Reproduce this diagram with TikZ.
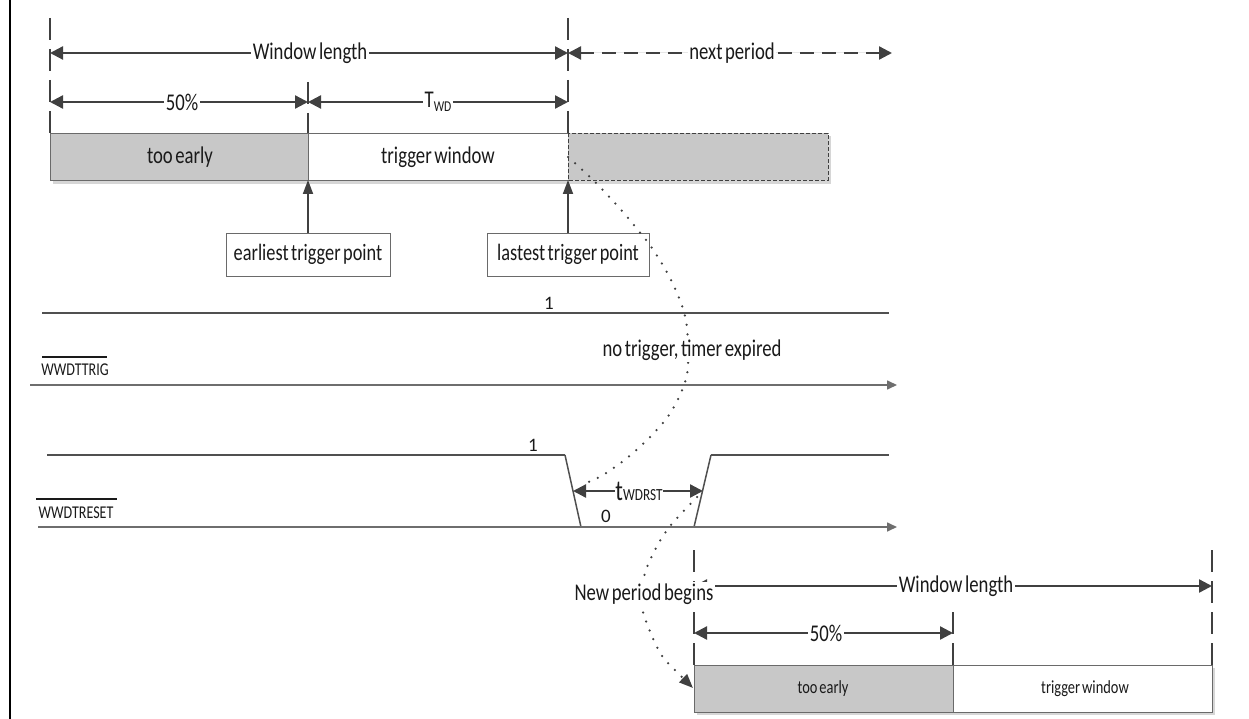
\documentclass[tikz,border=0pt]{standalone}
\usepackage{fontspec}
\setmainfont{Carlito}
\newfontfamily\cf{Carlito}[FakeStretch=0.78, WordSpace=0.6]
\usetikzlibrary{arrows.meta}
\definecolor{ln}{HTML}{404040}
\definecolor{boxgray}{HTML}{C8C8C8}
\definecolor{bord}{HTML}{6A6A6A}
\definecolor{sig}{HTML}{505050}
\definecolor{axisc}{HTML}{6E6E6E}
\definecolor{shad}{HTML}{D6D6D6}
\definecolor{txt}{HTML}{1A1A1A}
\tikzset{
  tri/.tip={Triangle[length=13pt,width=13pt]},
  dimarrow/.style={tri-tri, draw=ln, fill=ln, line width=2.3pt},
  uparrow/.style={-{Triangle[length=14pt,width=10pt]}, draw=ln, fill=ln, line width=1.8pt},
  marker/.style={draw=ln, line width=2.7pt, dash pattern=on 22pt off 9pt},
  lbl/.style={fill=white, inner sep=1.5pt, text=txt, font=\cf\fontsize{24}{26}\selectfont},
  boxtext/.style={inner sep=0pt, text=txt, font=\cf\fontsize{24}{26}\selectfont},
  smalltext/.style={inner sep=0pt, text=txt, font=\cf\fontsize{18.5}{20}\selectfont},
  siglabel/.style={inner sep=0pt, text=txt, font=\cf\fontsize{18}{20}\selectfont},
  level/.style={inner sep=0pt, text=txt, font=\fontsize{19}{21}\selectfont},
  callout/.style={draw=bord, line width=0.9pt, fill=white, minimum height=43pt, inner sep=0pt, text=txt, font=\cf\fontsize{23.5}{26}\selectfont},
  dots/.style={draw=ln, line width=2.5pt, line cap=round, dash pattern=on 0pt off 9.5pt},
  highline/.style={draw=sig, line width=2.8pt},
  edgeline/.style={draw=sig, line width=1.5pt, line join=miter},
  axisline/.style={draw=axisc, line width=1.6pt, -{Triangle[length=10pt,width=9pt]}},
  gbox/.style={fill=boxgray, draw=bord, line width=0.9pt},
  wbox/.style={fill=white, draw=bord, line width=0.9pt},
  shadow/.style={fill=shad, draw=none}
}
\begin{document}
\begin{tikzpicture}[x=1pt,y=-1pt]
\useasboundingbox (0,0) rectangle (1249,719);
% left border
\draw[line width=2.2pt, black] (10,0) -- (10,719);

% ===== top timing window =====
\coordinate (tA) at (50,53);
\coordinate (tB) at (568,53);
\coordinate (tC) at (892,53);
\coordinate (hA) at (50,102);
\coordinate (hM) at (308,102);
\coordinate (hB) at (568,102);
% markers
\draw[marker] (50,18) -- (50,133);
\draw[marker] (308,82) -- (308,133);
\draw[marker] (568,18) -- (568,133);
% dimension arrows
\draw[dimarrow] (tA) -- (tB);
\draw[tri-tri, draw=ln, fill=ln, line width=2.3pt, dash pattern=on 14pt off 8pt] (tB) -- (tC);
\draw[dimarrow] (hA) -- (hM);
\draw[dimarrow] (hM) -- (hB);
\node[lbl] (wl1) at (310,53) {Window length};
\node[lbl] (np) at (732,53) {next period};
\node[lbl] (p50a) at (182,102) {50\%};
\node[lbl] (twd) at (438,102) {T{\fontsize{15}{15}\selectfont\raisebox{-4pt}{WD}}};

% boxes
\fill[shadow] (53,136) rectangle (831,184);
\draw[gbox] (50,133) rectangle (308,180);
\draw[wbox] (308,133) rectangle (568,180);
\draw[fill=boxgray, draw=ln, line width=0.9pt, dash pattern=on 4pt off 2pt] (568,133) rectangle (828,180);
\node[boxtext] (te1) at (180,157) {too early};
\node[boxtext] (tw1) at (438,157) {trigger window};
\coordinate (e1) at (308,180);
\coordinate (l1) at (568,180);
% callouts
\node[callout, minimum width=164pt] (etp) at (308,254.5) {earliest trigger point};
\node[callout, minimum width=162pt] (ltp) at (568,254.5) {lastest trigger point};
\draw[uparrow] (etp.north) -- (e1);
\draw[uparrow] (ltp.north) -- (l1);

% ===== WWDTTRIG =====
\draw[highline] (42,313) -- (889,313);
\node[level] (one1) at (549,303) {1};
\draw[axisline] (30,385) -- (897,385);
\node[siglabel] (trig) at (75,370) {WWDTTRIG};
\draw[draw=txt, line width=1.2pt] (42,357) -- (107,357);

% ===== WWDTRESET =====
\draw[highline] (47,455) -- (565,455);
\draw[edgeline] (565,455) -- (581,527);
\draw[highline] (581,527) -- (694,527);
\draw[edgeline] (694,527) -- (711,455);
\draw[highline] (711,455) -- (889,455);
\draw[axisline] (38,527) -- (897,527);
\node[level] (one2) at (533,445) {1};
\node[level] (zero) at (606,516) {0};
\node[siglabel] (rst) at (76,513) {WWDTRESET};
\draw[draw=txt, line width=1.2pt] (36,499) -- (117,499);
\coordinate (rL) at (573,491);
\coordinate (rR) at (703,491);
\draw[dimarrow] (rL) -- (rR);

% ===== bottom timing window =====
\coordinate (bA) at (694,586);
\coordinate (bB) at (1212,586);
\coordinate (cA) at (694,633);
\coordinate (cM) at (953,633);
\draw[marker] (694,550) -- (694,665);
\draw[marker] (953,612) -- (953,665);
\draw[marker] (1212,550) -- (1212,665);
\draw[dimarrow] (bA) -- (bB);
\draw[dimarrow] (cA) -- (cM);
\fill[shadow] (697,668) rectangle (1215,715);
\draw[gbox] (694,665) rectangle (953,712);
\draw[wbox] (953,665) rectangle (1212,712);
\node[smalltext] (te2) at (823,689) {too early};
\node[smalltext] (tw2) at (1085,689) {trigger window};

% ===== dotted paths =====
\draw[dots] plot[smooth, tension=0.6] coordinates {(568,157) (591,178) (613,201) (633,224) (654,251) (672,282) (685,316) (688,350) (686,379) (671,412) (650,437) (627,458) (603,475) (586,483)};
\draw[dots, -{Triangle[length=14pt,width=11pt]}] plot[smooth, tension=0.6] coordinates {(697,497) (680,515) (667,530) (655,550) (645,573) (642,595) (643,612) (652,636) (662,656) (677,672) (693,688)};

% labels on top of lines
\node[lbl, inner sep=0.5pt] (twdrst) at (639,491) {{\fontsize{29}{29}\selectfont t}{\fontsize{17}{17}\selectfont WDRST}};
\node[lbl] (ntte) at (692,350) {no trigger, timer expired};
\node[lbl] (wl2) at (956,586) {Window length};
\node[lbl, inner sep=2pt] (npb) at (644,594) {New period begins};
\node[lbl] (p50b) at (826,633) {50\%};
\end{tikzpicture}
\end{document}
